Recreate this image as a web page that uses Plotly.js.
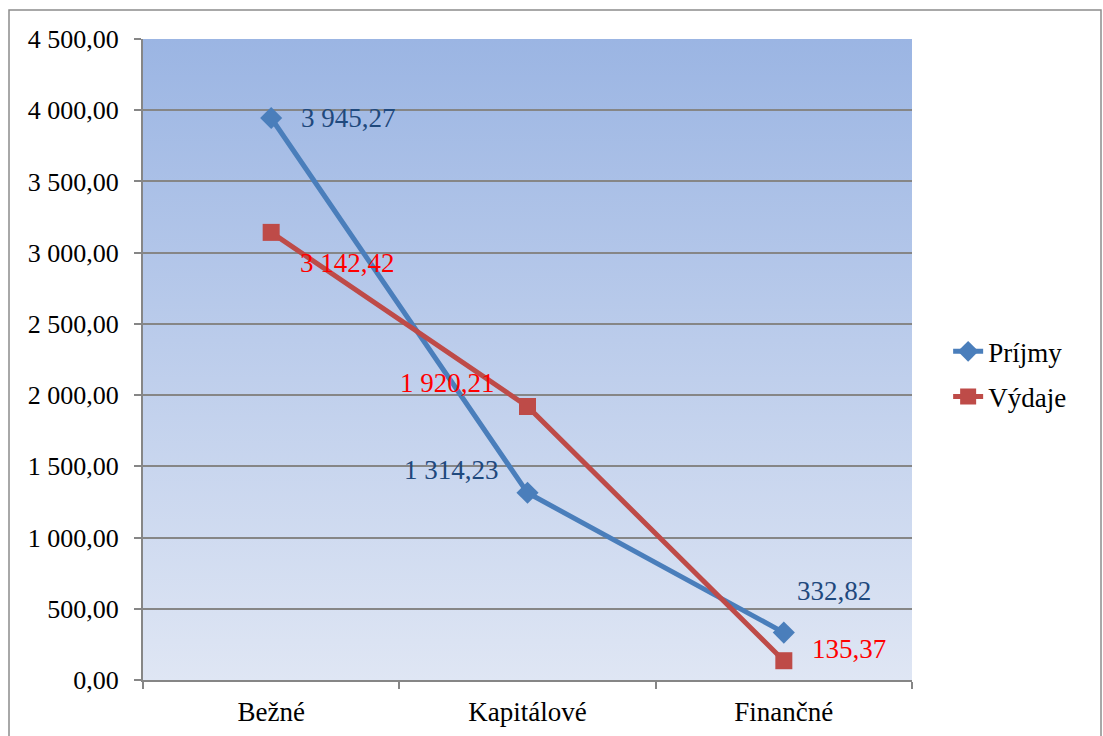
<!DOCTYPE html>
<html>
<head>
<meta charset="utf-8">
<script src="https://cdn.plot.ly/plotly-3.0.1.min.js"></script>
<style>html,body{margin:0;padding:0;background:#fff;}#chart{width:1103px;height:736px;}</style>
</head>
<body>
<div id="chart"></div>
<script>
var categories = ['Bežné', 'Kapitálové', 'Finančné'];
var prijmy = [3945.27, 1314.23, 332.82];
var vydaje = [3142.42, 1920.21, 135.37];
var seriesNames = ['Príjmy', 'Výdaje'];
var yTicks = [0, 500, 1000, 1500, 2000, 2500, 3000, 3500, 4000, 4500];

var FONT = '"Liberation Serif", "Times New Roman", serif';
var gradSvg = '<svg xmlns="http://www.w3.org/2000/svg" width="100" height="100" preserveAspectRatio="none">' +
  '<defs><linearGradient id="g" x1="0" y1="0" x2="0" y2="1">' +
  '<stop offset="0" stop-color="#9bb5e3"/><stop offset="1" stop-color="#dfe6f4"/></linearGradient></defs>' +
  '<rect width="100" height="100" fill="url(#g)"/></svg>';
var gradUrl = 'data:image/svg+xml;base64,' + btoa(gradSvg);

function fmt(v) {
  var s = v.toFixed(2).split('.');
  return s[0].replace(/\B(?=(\d{3})+(?!\d))/g, ' ') + ',' + s[1];
}

var traces = [
  {
    x: categories, y: prijmy, name: seriesNames[0], type: 'scatter', mode: 'lines+markers',
    legendgroup: 'a',
    line: {color: '#4a7ebb', width: 5},
    marker: {symbol: 'diamond', size: 17, color: '#4a7ebb'},
    cliponaxis: false
  },
  {
    x: categories, y: vydaje, name: seriesNames[1], type: 'scatter', mode: 'lines+markers',
    legendgroup: 'b',
    line: {color: '#be4b48', width: 5},
    marker: {symbol: 'square', size: 17, color: '#be4b48'},
    cliponaxis: false
  }
];

// label offsets (pixels) for each point
var prShift = [[77, 0], [-76, 23], [50, 42]];
var vyShift = [[76, -31], [-80, 23], [65, 12]];
var annotations = [];
categories.forEach(function (c, i) {
  annotations.push({x: c, y: prijmy[i], xref: 'x', yref: 'y', text: fmt(prijmy[i]), showarrow: false,
    xshift: prShift[i][0], yshift: prShift[i][1], font: {family: FONT, size: 27, color: '#1f497d'}});
  annotations.push({x: c, y: vydaje[i], xref: 'x', yref: 'y', text: fmt(vydaje[i]), showarrow: false,
    xshift: vyShift[i][0], yshift: vyShift[i][1], font: {family: FONT, size: 27, color: '#ff0000'}});
});

var W = 769, H = 641, L = 143, T = 39;
function px(x){ return (x - L) / W; }
function py(y){ return (T + H - y) / H; }

var layout = {
  width: 1103, height: 736,
  margin: {l: 143, r: 191, t: 39, b: 56, pad: 0},
  separators: ', ',
  paper_bgcolor: '#ffffff',
  plot_bgcolor: 'rgba(0,0,0,0)',
  font: {family: FONT, size: 27, color: '#000'},
  showlegend: true,
  legend: {x: 1.047, y: 0.477, xanchor: 'left', yanchor: 'middle',
    font: {family: FONT, size: 27, color: '#000'}, bgcolor: 'rgba(0,0,0,0)', tracegroupgap: 7},
  xaxis: {
    type: 'category', range: [-0.5, 2.5], showgrid: false, zeroline: false,
    showline: true, linecolor: '#868686', linewidth: 2,
    ticks: 'outside', ticklen: 7, tickcolor: '#868686', tickwidth: 2,
    ticklabelstandoff: 7,
    tickson: 'boundaries', tickfont: {family: FONT, size: 27, color: '#000'}
  },
  yaxis: {
    range: [0, 4500], tickvals: yTicks, tickformat: ',.2f',
    showgrid: true, gridcolor: '#868686', gridwidth: 2, zeroline: false,
    showline: true, linecolor: '#868686', linewidth: 2,
    ticks: 'outside', ticklen: 7, tickcolor: '#868686', tickwidth: 2,
    ticklabelstandoff: 10,
    tickfont: {family: FONT, size: 26, color: '#000'}
  },
  annotations: annotations,
  images: [{source: gradUrl, xref: 'paper', yref: 'paper', x: 0, y: 1, sizex: 1, sizey: 1,
    xanchor: 'left', yanchor: 'top', sizing: 'stretch', layer: 'below'}],
  shapes: [{type: 'rect', xref: 'paper', yref: 'paper', x0: px(9), x1: px(1101), y0: py(740), y1: py(10),
    line: {color: '#8c8c8c', width: 1.5}, fillcolor: 'rgba(0,0,0,0)', layer: 'below'}]
};

Plotly.newPlot('chart', traces, layout, {displayModeBar: false});
</script>
</body>
</html>
